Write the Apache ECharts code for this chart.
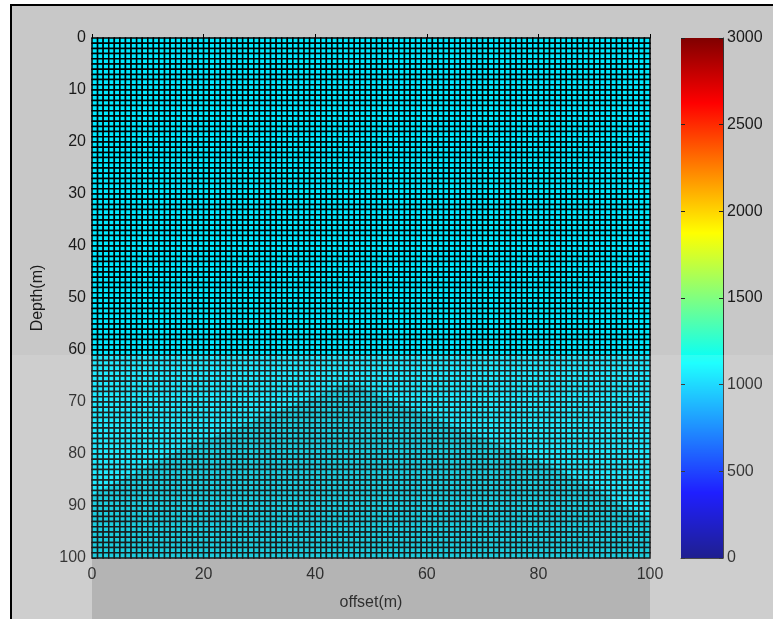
<!DOCTYPE html>
<html>
<head>
<meta charset="utf-8">
<script src="https://cdn.jsdelivr.net/npm/echarts@6/dist/echarts.min.js"></script>
<style>
  html, body { margin: 0; padding: 0; background: #fff; }
  #chart { width: 773px; height: 619px; }
</style>
</head>
<body>
<div id="chart"></div>
<script>
// model: 100 x 100 cells, one velocity layer
const nOffsetCells = 100
const nDepthCells = 100
const layers = [{ top: 0, bottom: 100, velocity: 1060 }]
const offsetTicks = [0, 20, 40, 60, 80, 100]
const depthTicks = [0, 10, 20, 30, 40, 50, 60, 70, 80, 90, 100]
const colorbarTicks = [0, 500, 1000, 1500, 2000, 2500, 3000]
// jet colormap stops (0, 1/8, ... 1)
const jet = ['#000080', '#0000ff', '#0080ff', '#00ffff', '#80ff80', '#ffff00', '#ff8000', '#ff0000', '#800000']

let cells = []
for (let z = 0; z < nDepthCells; z++) {
  const layer = layers.find(l => z >= l.top && z < l.bottom)
  for (let x = 0; x < nOffsetCells; x++) {
    cells.push([x, z, layer.velocity])
  }
}
const vMin = colorbarTicks[0]
const vMax = colorbarTicks[colorbarTicks.length - 1]

let myChart = echarts.init(document.getElementById('chart'))
const font = 'Liberation Sans'
const plain = v => String(v)

let option = {
  backgroundColor: '#fff',
  animation: false,
  grid: [
    { left: 92, top: 38, width: 558, height: 520 },
    { left: 681, top: 38, width: 42, height: 520 },
  ],
  xAxis: [
    {
      type: 'value', gridIndex: 0, min: offsetTicks[0], max: offsetTicks[offsetTicks.length - 1], interval: 20,
      name: 'offset(m)', nameLocation: 'middle', nameGap: 37,
      nameTextStyle: { fontFamily: font, fontSize: 16, color: '#1a1a1a' },
      axisLine: { lineStyle: { color: '#000' } },
      axisTick: { inside: true, length: 4, lineStyle: { color: '#000' } },
      axisLabel: { fontFamily: font, fontSize: 16, color: '#1a1a1a', margin: 9, formatter: plain },
      splitLine: { show: false },
    },
    {
      type: 'value', gridIndex: 1, min: 0, max: 1, z: 5,
      axisLine: { show: true, onZero: false, lineStyle: { color: '#333' } },
      axisTick: { show: false }, axisLabel: { show: false }, splitLine: { show: false },
    },
  ],
  yAxis: [
    {
      type: 'value', gridIndex: 0, min: depthTicks[0], max: depthTicks[depthTicks.length - 1], interval: 10, inverse: true,
      name: 'Depth(m)', nameLocation: 'middle', nameGap: 46,
      nameTextStyle: { fontFamily: font, fontSize: 16, color: '#1a1a1a' },
      axisLine: { lineStyle: { color: '#000' } },
      axisTick: { inside: true, length: 4, lineStyle: { color: '#000' } },
      axisLabel: { fontFamily: font, fontSize: 16, color: '#1a1a1a', margin: 6, formatter: plain },
      splitLine: { show: false },
    },
    {
      type: 'value', gridIndex: 1, min: vMin, max: vMax, interval: 500, position: 'right',
      z: 5,
      axisLine: { show: true, onZero: false, lineStyle: { color: '#333' } },
      axisTick: { inside: true, length: 4, lineStyle: { color: '#222' } },
      axisLabel: { fontFamily: font, fontSize: 16, color: '#1a1a1a', margin: 4, formatter: plain },
      splitLine: { show: false },
    },
    {
      type: 'value', gridIndex: 1, min: vMin, max: vMax, interval: 500, position: 'left',
      z: 5,
      axisLine: { show: false, onZero: false },
      axisTick: { inside: true, length: 4, lineStyle: { color: '#222' } },
      axisLabel: { show: false },
      splitLine: { show: false },
    },
  ],
  visualMap: {
    type: 'continuous',
    show: false,
    min: vMin, max: vMax,
    dimension: 2,
    seriesIndex: 0,
    inRange: { color: jet },
  },
  graphic: [
    // figure frame
    { type: 'rect', z: -10, shape: { x: 11, y: 5, width: 800, height: 700 },
      style: { fill: '#c8c8c8', stroke: '#000', lineWidth: 2 } },
    // faint watermark
    { type: 'rect', z: 100, silent: true, shape: { x: 12, y: 355, width: 800, height: 300 },
      style: { fill: 'rgba(255,255,255,0.12)' } },
    { type: 'polygon', z: 100, silent: true,
      shape: { points: [[92, 495], [180, 450], [350, 383], [560, 470], [650, 520], [650, 640], [92, 640]] },
      style: { fill: 'rgba(0,0,0,0.13)' } },
  ],
  series: [
    {
      type: 'custom',
      xAxisIndex: 0,
      yAxisIndex: 0,
      data: cells,
      renderItem: function(params, api) {
        let p0 = api.coord([api.value(0), api.value(1)])
        let p1 = api.coord([api.value(0) + 1, api.value(1) + 1])
        return {
          type: 'rect',
          shape: {
            x: Math.min(p0[0], p1[0]),
            y: Math.min(p0[1], p1[1]),
            width: Math.abs(p1[0] - p0[0]),
            height: Math.abs(p1[1] - p0[1]),
          },
          style: { fill: api.visual('color'), stroke: '#000', lineWidth: 1.5 },
        }
      },
    },
    {
      // colorbar
      type: 'custom',
      xAxisIndex: 1,
      yAxisIndex: 1,
      z: 1,
      silent: true,
      data: [[0, vMin, 1, vMax]],
      renderItem: function(params, api) {
        let p0 = api.coord([api.value(0), api.value(1)])
        let p1 = api.coord([api.value(2), api.value(3)])
        return {
          type: 'rect',
          shape: { x: p0[0], y: p1[1], width: p1[0] - p0[0], height: p0[1] - p1[1] },
          style: {
            fill: new echarts.graphic.LinearGradient(0, 1, 0, 0,
              jet.map((c, i) => ({ offset: i / (jet.length - 1), color: c }))),
          },
        }
      },
    },
  ],
}
myChart.setOption(option)
</script>
</body>
</html>
